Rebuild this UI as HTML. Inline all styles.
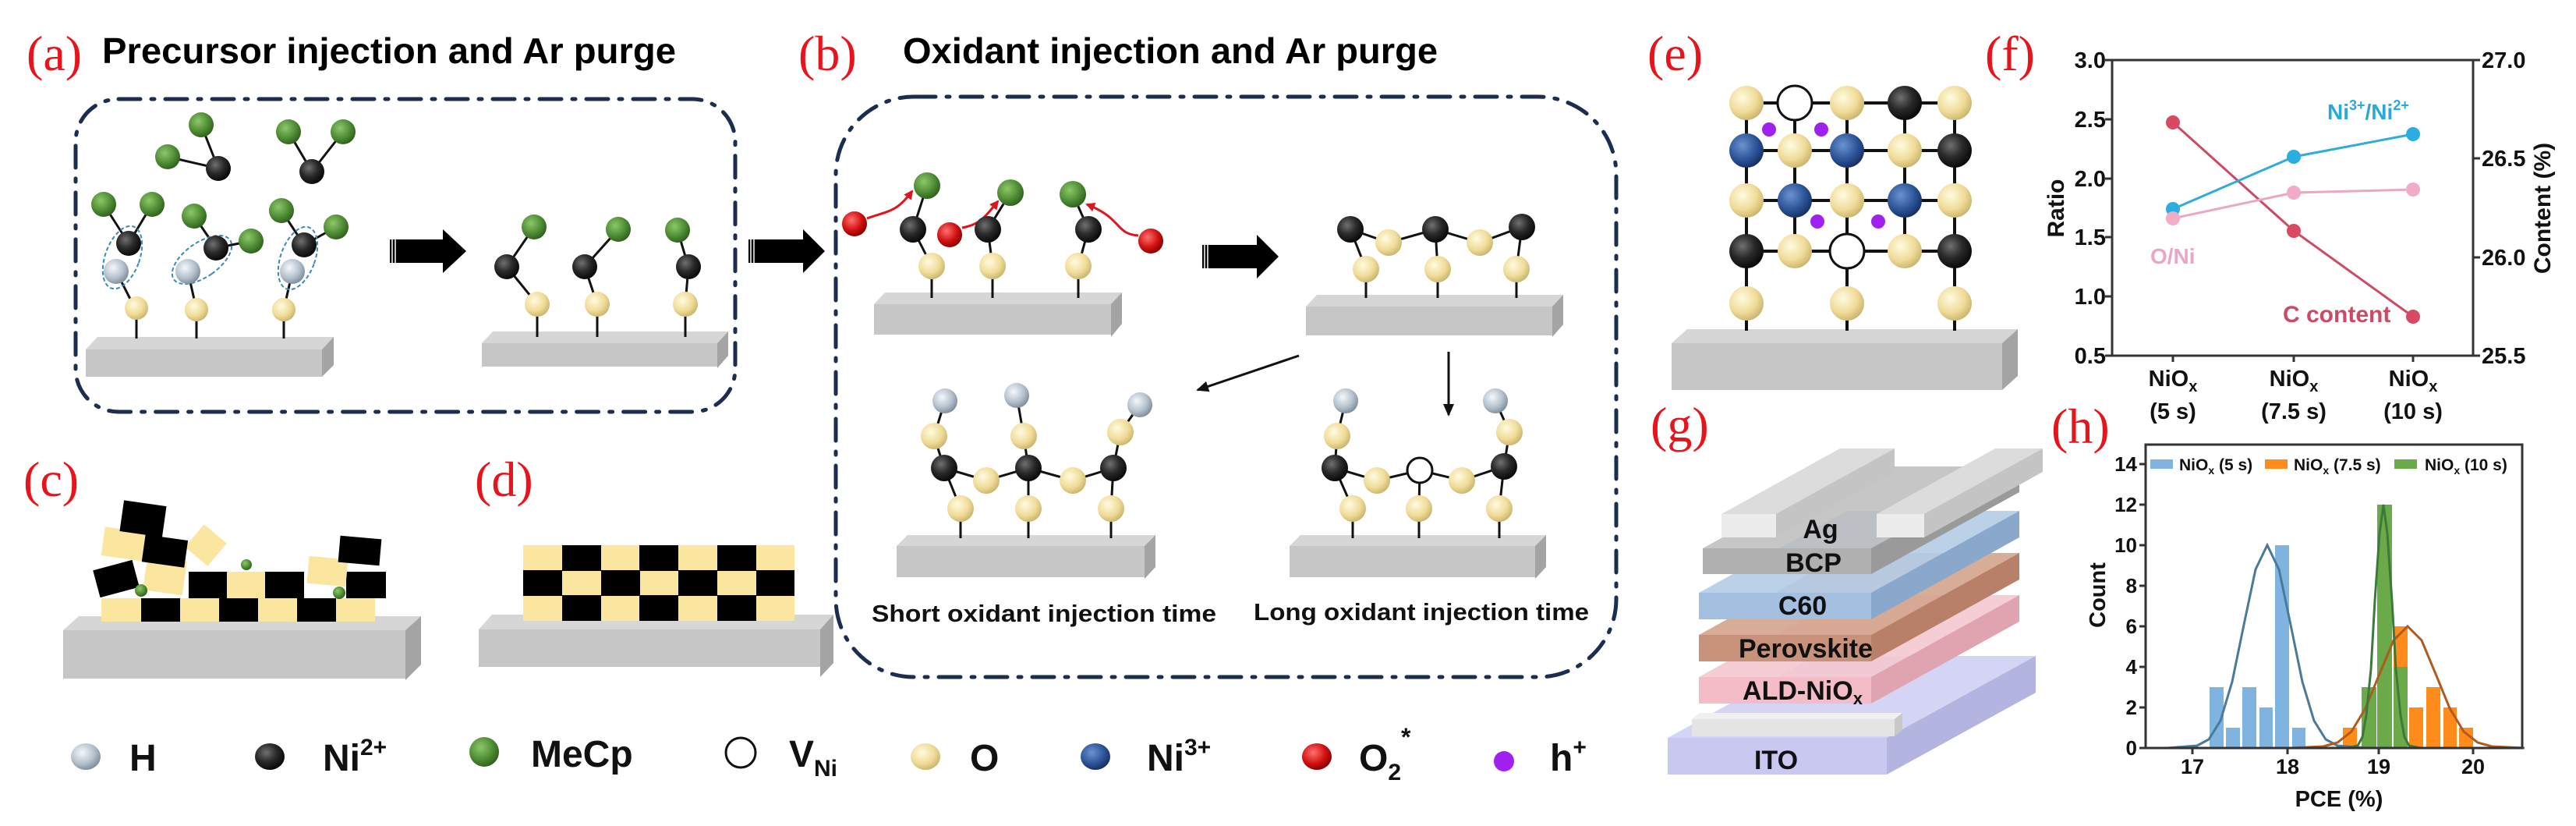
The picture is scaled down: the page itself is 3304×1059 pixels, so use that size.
<!DOCTYPE html>
<html><head><meta charset="utf-8"><style>
html,body{margin:0;padding:0;background:#fff;}
svg{display:block;}
text{font-family:"Liberation Sans",Arial,sans-serif;font-weight:bold;}
.lab{font-family:"Liberation Serif","Times New Roman",serif;font-weight:normal;fill:#e8141c;font-size:64px;}
</style></head><body>
<svg width="3304" height="1059" viewBox="0 0 3304 1059" xmlns="http://www.w3.org/2000/svg">
<defs>
<radialGradient id="gO" cx="0.38" cy="0.35" r="0.7"><stop offset="0" stop-color="#fffbe0"/><stop offset="0.6" stop-color="#f0dc98"/><stop offset="1" stop-color="#c8b26a"/></radialGradient>
<radialGradient id="gK" cx="0.38" cy="0.35" r="0.7"><stop offset="0" stop-color="#707070"/><stop offset="0.5" stop-color="#2a2a2a"/><stop offset="1" stop-color="#050505"/></radialGradient>
<radialGradient id="gG" cx="0.38" cy="0.35" r="0.7"><stop offset="0" stop-color="#8cc86a"/><stop offset="0.6" stop-color="#4e8c34"/><stop offset="1" stop-color="#2c5c1c"/></radialGradient>
<radialGradient id="gH" cx="0.38" cy="0.35" r="0.7"><stop offset="0" stop-color="#f4f8fc"/><stop offset="0.6" stop-color="#b4c0cc"/><stop offset="1" stop-color="#7a8898"/></radialGradient>
<radialGradient id="gB" cx="0.38" cy="0.35" r="0.7"><stop offset="0" stop-color="#6a94d0"/><stop offset="0.6" stop-color="#2c5498"/><stop offset="1" stop-color="#142c60"/></radialGradient>
<radialGradient id="gR" cx="0.38" cy="0.35" r="0.7"><stop offset="0" stop-color="#ff7070"/><stop offset="0.6" stop-color="#d01010"/><stop offset="1" stop-color="#800000"/></radialGradient>
<marker id="ak" markerWidth="8" markerHeight="8" refX="6" refY="4" orient="auto" markerUnits="userSpaceOnUse"><path d="M0,0 L8,4 L0,8 z" fill="#111"/></marker>
<marker id="ak2" markerWidth="16" markerHeight="14" refX="14" refY="7" orient="auto" markerUnits="userSpaceOnUse"><path d="M0,0 L16,7 L0,14 z" fill="#111"/></marker>
<marker id="ar" markerWidth="12" markerHeight="12" refX="10" refY="6" orient="auto" markerUnits="userSpaceOnUse"><path d="M0,0 L12,6 L0,12 z" fill="#e0141c"/></marker>
</defs>

<!-- Titles -->
<text x="34" y="90" class="lab">(a)</text>
<text x="131" y="81" font-size="46" textLength="736" lengthAdjust="spacingAndGlyphs">Precursor injection and Ar purge</text>
<text x="1024" y="90" class="lab">(b)</text>
<text x="1158" y="81" font-size="46" textLength="686" lengthAdjust="spacingAndGlyphs">Oxidant injection and Ar purge</text>
<text x="2113" y="90" class="lab">(e)</text>
<text x="2546" y="90" class="lab">(f)</text>
<text x="30" y="636" class="lab">(c)</text>
<text x="609" y="636" class="lab">(d)</text>
<text x="2117" y="566" class="lab">(g)</text>
<text x="2631" y="568" class="lab">(h)</text>

<!-- dashed boxes -->
<g fill="none" stroke="#1b2d50" stroke-width="5" stroke-dasharray="28 14 4 14" stroke-linecap="round">
<rect x="97" y="127" width="846" height="401" rx="55" ry="55"/>
<rect x="1072" y="124" width="1001" height="744" rx="100" ry="100"/>
</g>

<!-- Block arrows -->
<g fill="#000">
<path d="M500,307 H568 V294 L598,322 L568,350 V337 H500 Z"/>
<path d="M960,307 H1030 V294 L1058,322 L1030,350 V337 H960 Z"/>
<path d="M1542,314 H1612 V301 L1640,329 L1612,357 V344 H1542 Z"/>
</g>
<g stroke="#fff" stroke-width="1.5"><line x1="503" y1="306" x2="503" y2="338"/><line x1="507" y1="306" x2="507" y2="338"/><line x1="963" y1="306" x2="963" y2="338"/><line x1="967" y1="306" x2="967" y2="338"/><line x1="1545" y1="313" x2="1545" y2="345"/><line x1="1549" y1="313" x2="1549" y2="345"/></g>

<!-- Substrates -->
<g id="subs">
<polygon points="110,448 125,432 428,432 413,448" fill="#d6d6d6"/><rect x="110" y="448" width="303" height="35" fill="#c6c6c6"/><polygon points="413,448 428,432 428,468 413,483" fill="#a4a4a4"/>
<polygon points="618,440 632,425 934,425 920,440" fill="#d6d6d6"/><rect x="618" y="440" width="302" height="30" fill="#c6c6c6"/><polygon points="920,440 934,425 934,456 920,472" fill="#a4a4a4"/>
<polygon points="1121,390 1135,375 1439,375 1425,390" fill="#d6d6d6"/><rect x="1121" y="390" width="304" height="39" fill="#c6c6c6"/><polygon points="1425,390 1439,375 1439,415 1425,432" fill="#a4a4a4"/>
<polygon points="1675,393 1689,378 2005,378 1991,393" fill="#d6d6d6"/><rect x="1675" y="393" width="316" height="37" fill="#c6c6c6"/><polygon points="1991,393 2005,378 2005,416 1991,432" fill="#a4a4a4"/>
<polygon points="1150,700 1164,686 1482,686 1468,700" fill="#d6d6d6"/><rect x="1150" y="700" width="318" height="40" fill="#c6c6c6"/><polygon points="1468,700 1482,686 1482,727 1468,742" fill="#a4a4a4"/>
<polygon points="1654,700 1668,686 1983,686 1969,700" fill="#d6d6d6"/><rect x="1654" y="700" width="315" height="40" fill="#c6c6c6"/><polygon points="1969,700 1983,686 1983,727 1969,742" fill="#a4a4a4"/>
<polygon points="81,808 101,790 540,790 520,808" fill="#d6d6d6"/><rect x="81" y="808" width="439" height="62" fill="#c6c6c6"/><polygon points="520,808 540,790 540,852 520,872" fill="#a4a4a4"/>
<polygon points="614,807 631,788 1069,788 1052,807" fill="#d6d6d6"/><rect x="614" y="807" width="438" height="48" fill="#c6c6c6"/><polygon points="1052,807 1069,788 1069,850 1052,868" fill="#a4a4a4"/>
<polygon points="2144,440 2164,422 2588,422 2568,440" fill="#d6d6d6"/><rect x="2144" y="440" width="424" height="60" fill="#c6c6c6"/><polygon points="2568,440 2588,422 2588,482 2568,500" fill="#a4a4a4"/>
</g>

<!-- Panel a molecules -->
<g stroke="#111" stroke-width="3">
<line x1="258" y1="160" x2="280" y2="216"/><line x1="215" y1="201" x2="280" y2="216"/>
<line x1="370" y1="169" x2="400" y2="220"/><line x1="440" y1="169" x2="400" y2="220"/>
<line x1="133" y1="262" x2="165" y2="312"/><line x1="195" y1="262" x2="165" y2="312"/><line x1="149" y1="348" x2="173" y2="395"/><line x1="175" y1="395" x2="175" y2="434"/>
<line x1="249" y1="277" x2="277" y2="318"/><line x1="322" y1="309" x2="277" y2="318"/><line x1="241" y1="348" x2="252" y2="397"/><line x1="252" y1="397" x2="252" y2="434"/>
<line x1="361" y1="270" x2="390" y2="314"/><line x1="431" y1="291" x2="390" y2="314"/><line x1="375" y1="348" x2="364" y2="397"/><line x1="364" y1="397" x2="364" y2="434"/>
<line x1="689" y1="390" x2="689" y2="432"/><line x1="766" y1="390" x2="766" y2="432"/><line x1="879" y1="390" x2="879" y2="432"/>
<polyline points="685,291 650,342 689,390" fill="none"/><polyline points="793,294 750,342 766,390" fill="none"/><polyline points="869,295 883,342 879,390" fill="none"/>
</g>
<g>
<circle cx="258" cy="160" r="16" fill="url(#gG)"/><circle cx="215" cy="201" r="16" fill="url(#gG)"/><circle cx="280" cy="216" r="16" fill="url(#gK)"/>
<circle cx="370" cy="169" r="16" fill="url(#gG)"/><circle cx="440" cy="169" r="16" fill="url(#gG)"/><circle cx="400" cy="220" r="16" fill="url(#gK)"/>
<g fill="none" stroke="#3a8ab8" stroke-width="2" stroke-dasharray="5 3">
<ellipse cx="157" cy="330" rx="22" ry="42" transform="rotate(20 157 330)"/>
<ellipse cx="259" cy="333" rx="22" ry="44" transform="rotate(55 259 333)"/>
<ellipse cx="382" cy="331" rx="22" ry="42" transform="rotate(20 382 331)"/>
</g>
<circle cx="133" cy="262" r="16" fill="url(#gG)"/><circle cx="195" cy="262" r="16" fill="url(#gG)"/><circle cx="165" cy="312" r="16" fill="url(#gK)"/><circle cx="149" cy="348" r="16" fill="url(#gH)"/><circle cx="175" cy="395" r="15" fill="url(#gO)"/>
<circle cx="249" cy="277" r="16" fill="url(#gG)"/><circle cx="322" cy="309" r="16" fill="url(#gG)"/><circle cx="277" cy="318" r="16" fill="url(#gK)"/><circle cx="241" cy="348" r="16" fill="url(#gH)"/><circle cx="252" cy="397" r="15" fill="url(#gO)"/>
<circle cx="361" cy="270" r="16" fill="url(#gG)"/><circle cx="431" cy="291" r="16" fill="url(#gG)"/><circle cx="390" cy="314" r="16" fill="url(#gK)"/><circle cx="375" cy="348" r="16" fill="url(#gH)"/><circle cx="364" cy="397" r="15" fill="url(#gO)"/>
<circle cx="685" cy="291" r="16" fill="url(#gG)"/><circle cx="650" cy="342" r="16" fill="url(#gK)"/><circle cx="689" cy="390" r="16" fill="url(#gO)"/>
<circle cx="793" cy="294" r="16" fill="url(#gG)"/><circle cx="750" cy="342" r="16" fill="url(#gK)"/><circle cx="766" cy="390" r="16" fill="url(#gO)"/>
<circle cx="869" cy="295" r="16" fill="url(#gG)"/><circle cx="883" cy="342" r="16" fill="url(#gK)"/><circle cx="879" cy="390" r="16" fill="url(#gO)"/>
</g>

<!-- Panel b molecules -->
<g stroke="#111" stroke-width="3" fill="none">
<polyline points="1189,238 1171,294 1195,341 1195,382"/>
<polyline points="1296,247 1267,294 1273,341 1273,382"/>
<polyline points="1376,249 1396,294 1383,341 1383,382"/>
<polyline points="1752,345 1732,294 1781,311 1841,294 1898,311 1952,291 1945,345"/>
<line x1="1841" y1="294" x2="1844" y2="345"/>
<line x1="1752" y1="345" x2="1752" y2="382"/><line x1="1844" y1="345" x2="1844" y2="382"/><line x1="1945" y1="345" x2="1945" y2="382"/>
<polyline points="1212,514 1198,559 1211,600 1265,616 1319,600 1376,616 1428,600"/>
<polyline points="1304,507 1313,559 1319,600 1319,652 1319,690"/>
<polyline points="1462,519 1437,554 1428,600 1425,652 1425,690"/>
<polyline points="1211,600 1232,652 1232,690"/>
<polyline points="1726,514 1715,559 1712,600 1766,616 1821,603 1875,616 1929,598 1936,554 1918,514"/>
<polyline points="1712,600 1735,652 1735,690"/>
<polyline points="1821,603 1820,652 1820,690"/>
<polyline points="1929,598 1923,652 1923,690"/>
</g>
<g stroke="#111" stroke-width="3">
<line x1="1666" y1="456" x2="1536" y2="500" marker-end="url(#ak2)"/>
<line x1="1858" y1="451" x2="1858" y2="532" marker-end="url(#ak2)"/>
</g>
<g stroke="#e0141c" stroke-width="3" fill="none">
<path d="M1112,280 C1140,270 1150,272 1170,245" marker-end="url(#ar)"/>
<path d="M1234,292 C1256,288 1262,280 1280,258" marker-end="url(#ar)"/>
<path d="M1460,302 C1430,300 1440,280 1394,262" marker-end="url(#ar)"/>
</g>
<g>
<circle cx="1096" cy="287" r="16" fill="url(#gR)"/><circle cx="1218" cy="301" r="16" fill="url(#gR)"/><circle cx="1476" cy="309" r="16" fill="url(#gR)"/>
<circle cx="1189" cy="238" r="17" fill="url(#gG)"/><circle cx="1296" cy="247" r="17" fill="url(#gG)"/><circle cx="1376" cy="249" r="17" fill="url(#gG)"/>
<circle cx="1171" cy="294" r="17" fill="url(#gK)"/><circle cx="1267" cy="294" r="17" fill="url(#gK)"/><circle cx="1396" cy="294" r="17" fill="url(#gK)"/>
<circle cx="1195" cy="341" r="17" fill="url(#gO)"/><circle cx="1273" cy="341" r="17" fill="url(#gO)"/><circle cx="1383" cy="341" r="17" fill="url(#gO)"/>
<circle cx="1732" cy="294" r="17" fill="url(#gK)"/><circle cx="1781" cy="311" r="17" fill="url(#gO)"/><circle cx="1841" cy="294" r="17" fill="url(#gK)"/><circle cx="1898" cy="311" r="17" fill="url(#gO)"/><circle cx="1952" cy="291" r="17" fill="url(#gK)"/>
<circle cx="1752" cy="345" r="17" fill="url(#gO)"/><circle cx="1844" cy="345" r="17" fill="url(#gO)"/><circle cx="1945" cy="345" r="17" fill="url(#gO)"/>
<circle cx="1212" cy="514" r="16" fill="url(#gH)"/><circle cx="1304" cy="507" r="16" fill="url(#gH)"/><circle cx="1462" cy="519" r="16" fill="url(#gH)"/>
<circle cx="1198" cy="559" r="17" fill="url(#gO)"/><circle cx="1313" cy="559" r="17" fill="url(#gO)"/><circle cx="1437" cy="554" r="17" fill="url(#gO)"/>
<circle cx="1211" cy="600" r="17" fill="url(#gK)"/><circle cx="1319" cy="600" r="17" fill="url(#gK)"/><circle cx="1428" cy="600" r="17" fill="url(#gK)"/>
<circle cx="1265" cy="616" r="17" fill="url(#gO)"/><circle cx="1376" cy="616" r="17" fill="url(#gO)"/>
<circle cx="1232" cy="652" r="17" fill="url(#gO)"/><circle cx="1319" cy="652" r="17" fill="url(#gO)"/><circle cx="1425" cy="652" r="17" fill="url(#gO)"/>
<circle cx="1726" cy="514" r="16" fill="url(#gH)"/><circle cx="1918" cy="514" r="16" fill="url(#gH)"/>
<circle cx="1715" cy="559" r="17" fill="url(#gO)"/><circle cx="1936" cy="554" r="17" fill="url(#gO)"/>
<circle cx="1712" cy="600" r="17" fill="url(#gK)"/><circle cx="1929" cy="598" r="17" fill="url(#gK)"/>
<circle cx="1766" cy="616" r="17" fill="url(#gO)"/><circle cx="1875" cy="616" r="17" fill="url(#gO)"/>
<circle cx="1821" cy="603" r="16" fill="#fff" stroke="#111" stroke-width="3"/>
<circle cx="1735" cy="652" r="17" fill="url(#gO)"/><circle cx="1820" cy="652" r="17" fill="url(#gO)"/><circle cx="1923" cy="652" r="17" fill="url(#gO)"/>
</g>
<text x="1118" y="797" font-size="31" fill="#111" textLength="442" lengthAdjust="spacingAndGlyphs">Short oxidant injection time</text>
<text x="1608" y="795" font-size="31" fill="#111" textLength="430" lengthAdjust="spacingAndGlyphs">Long oxidant injection time</text>

<!-- Panel c -->
<g>
<rect x="130" y="767" width="51" height="30" fill="#fbe6a0"/><rect x="181" y="767" width="50" height="30" fill="#000"/><rect x="231" y="767" width="50" height="30" fill="#fbe6a0"/><rect x="281" y="767" width="50" height="30" fill="#000"/><rect x="331" y="767" width="50" height="30" fill="#fbe6a0"/><rect x="381" y="767" width="50" height="30" fill="#000"/><rect x="431" y="767" width="50" height="30" fill="#fbe6a0"/>
<rect x="242" y="733" width="49" height="34" fill="#000"/><rect x="291" y="733" width="49" height="34" fill="#fbe6a0"/><rect x="340" y="733" width="50" height="34" fill="#000"/><rect x="444" y="733" width="51" height="34" fill="#000"/>
<rect x="395" y="715" width="50" height="35" fill="#fbe6a0" transform="rotate(5 420 732)"/>
<rect x="132" y="679" width="54" height="37" fill="#fbe6a0" transform="rotate(8 159 697)"/>
<rect x="186" y="716" width="51" height="44" fill="#fbe6a0" transform="rotate(8 211 738)"/>
<rect x="245" y="680" width="38" height="38" fill="#fbe6a0" transform="rotate(40 264 699)"/>
<rect x="156" y="645" width="55" height="40" fill="#000" transform="rotate(8 183 665)"/>
<rect x="184" y="689" width="55" height="35" fill="#000" transform="rotate(8 211 706)"/>
<rect x="123" y="724" width="52" height="36" fill="#000" transform="rotate(-15 149 742)"/>
<rect x="435" y="689" width="53" height="34" fill="#000" transform="rotate(5 461 706)"/>
<circle cx="181" cy="757" r="8" fill="url(#gG)"/><circle cx="316" cy="724" r="7" fill="url(#gG)"/><circle cx="435" cy="760" r="8" fill="url(#gG)"/>
</g>

<!-- Panel d checker -->
<g>
<rect x="671" y="699" width="348" height="97" fill="#fbe6a0"/>
<g fill="#000">
<rect x="721" y="699" width="50" height="33"/><rect x="820" y="699" width="50" height="33"/><rect x="920" y="699" width="50" height="33"/>
<rect x="671" y="731" width="50" height="33"/><rect x="771" y="731" width="50" height="33"/><rect x="870" y="731" width="50" height="33"/><rect x="970" y="731" width="49" height="33"/>
<rect x="721" y="763" width="50" height="33"/><rect x="820" y="763" width="50" height="33"/><rect x="920" y="763" width="50" height="33"/>
</g>
</g>

<!-- Panel e lattice -->
<g stroke="#111" stroke-width="4">
<line x1="2240" y1="132" x2="2507" y2="132"/><line x1="2240" y1="193" x2="2507" y2="193"/><line x1="2240" y1="257" x2="2507" y2="257"/><line x1="2240" y1="322" x2="2507" y2="322"/>
<line x1="2240" y1="132" x2="2240" y2="424"/><line x1="2302" y1="132" x2="2302" y2="322"/><line x1="2369" y1="132" x2="2369" y2="424"/><line x1="2443" y1="132" x2="2443" y2="322"/><line x1="2507" y1="132" x2="2507" y2="424"/>
</g>
<g>
<circle cx="2240" cy="132" r="22" fill="url(#gO)"/><circle cx="2302" cy="132" r="22" fill="#fff" stroke="#111" stroke-width="3"/><circle cx="2369" cy="132" r="22" fill="url(#gO)"/><circle cx="2443" cy="132" r="22" fill="url(#gK)"/><circle cx="2507" cy="132" r="22" fill="url(#gO)"/>
<circle cx="2240" cy="193" r="22" fill="url(#gB)"/><circle cx="2302" cy="193" r="22" fill="url(#gO)"/><circle cx="2369" cy="193" r="22" fill="url(#gB)"/><circle cx="2443" cy="193" r="22" fill="url(#gO)"/><circle cx="2507" cy="193" r="22" fill="url(#gK)"/>
<circle cx="2240" cy="257" r="22" fill="url(#gO)"/><circle cx="2302" cy="257" r="22" fill="url(#gB)"/><circle cx="2369" cy="257" r="22" fill="url(#gO)"/><circle cx="2443" cy="257" r="22" fill="url(#gB)"/><circle cx="2507" cy="257" r="22" fill="url(#gO)"/>
<circle cx="2240" cy="322" r="22" fill="url(#gK)"/><circle cx="2302" cy="322" r="22" fill="url(#gO)"/><circle cx="2369" cy="322" r="22" fill="#fff" stroke="#111" stroke-width="3"/><circle cx="2443" cy="322" r="22" fill="url(#gO)"/><circle cx="2507" cy="322" r="22" fill="url(#gK)"/>
<circle cx="2240" cy="389" r="22" fill="url(#gO)"/><circle cx="2369" cy="389" r="22" fill="url(#gO)"/><circle cx="2507" cy="389" r="22" fill="url(#gO)"/>
<g fill="#a020f0"><circle cx="2269" cy="166" r="9"/><circle cx="2336" cy="166" r="9"/><circle cx="2331" cy="284" r="9"/><circle cx="2409" cy="284" r="9"/></g>
</g>

<!-- Panel g stack -->
<g>
<polygon points="2139,946 2329,841 2611,841 2420,946" fill="#d4d4f4"/>
<rect x="2139" y="946" width="281" height="47" fill="#c8c8f0"/>
<polygon points="2420,946 2611,841 2611,888 2420,993" fill="#b4b4e0"/>
<polygon points="2170,922 2180,914 2440,914 2430,922" fill="#f0f0f0"/><rect x="2170" y="922" width="260" height="22" fill="#e4e4e4"/><polygon points="2430,922 2440,914 2440,936 2430,944" fill="#c8c8c8"/>
<polygon points="2179,868 2369,763 2590,763 2400,868" fill="#f4c8d0" opacity="0.9"/>
<rect x="2179" y="868" width="221" height="34" fill="#f4bcc6"/>
<polygon points="2400,868 2590,763 2590,797 2400,902" fill="#e0a4b0"/>
<polygon points="2179,814 2369,709 2590,709 2400,814" fill="#d4a48c" opacity="0.9"/>
<rect x="2179" y="814" width="221" height="34" fill="#c8927a"/>
<polygon points="2400,814 2590,709 2590,743 2400,848" fill="#b88068"/>
<polygon points="2179,760 2369,655 2590,655 2400,760" fill="#b4cce6" opacity="0.9"/>
<rect x="2179" y="760" width="221" height="34" fill="#a4c0e0"/>
<polygon points="2400,760 2590,655 2590,689 2400,794" fill="#8aa8cc"/>
<polygon points="2184,703 2374,598 2590,598 2400,703" fill="#bcbcbc" opacity="0.85"/>
<rect x="2184" y="703" width="216" height="33" fill="#b0b0b0"/>
<polygon points="2400,703 2590,598 2590,631 2400,736" fill="#9a9a9a"/>
<polygon points="2208,659 2360,575 2430,575 2278,659" fill="#dcdcdc"/><rect x="2208" y="659" width="70" height="30" fill="#ececec"/><polygon points="2278,659 2430,575 2430,605 2278,689" fill="#c4c4c4"/>
<polygon points="2407,659 2559,575 2620,575 2468,659" fill="#dcdcdc"/><rect x="2407" y="659" width="61" height="30" fill="#ececec"/><polygon points="2468,659 2620,575 2620,605 2468,689" fill="#c4c4c4"/>
</g>
<g font-size="34" fill="#111" text-anchor="middle">
<text x="2335" y="690">Ag</text>
<text x="2326" y="733">BCP</text>
<text x="2312" y="788">C60</text>
<text x="2316" y="843">Perovskite</text>
<text x="2312" y="897">ALD-NiO<tspan font-size="22" dy="6">x</tspan></text>
<text x="2278" y="986">ITO</text>
</g>

<!-- Panel f plot -->
<g>
<rect x="2709" y="77" width="463" height="379" fill="none" stroke="#333" stroke-width="3"/>
<g stroke="#333" stroke-width="3">
<line x1="2709" y1="77" x2="2700" y2="77"/><line x1="2709" y1="153" x2="2700" y2="153"/><line x1="2709" y1="229" x2="2700" y2="229"/><line x1="2709" y1="304" x2="2700" y2="304"/><line x1="2709" y1="380" x2="2700" y2="380"/><line x1="2709" y1="456" x2="2700" y2="456"/>
<line x1="3172" y1="77" x2="3181" y2="77"/><line x1="3172" y1="203" x2="3181" y2="203"/><line x1="3172" y1="330" x2="3181" y2="330"/><line x1="3172" y1="456" x2="3181" y2="456"/>
<line x1="2787" y1="456" x2="2787" y2="464"/><line x1="2942" y1="456" x2="2942" y2="464"/><line x1="3095" y1="456" x2="3095" y2="464"/>
</g>
<g font-size="29" fill="#111" text-anchor="end">
<text x="2701" y="87">3.0</text><text x="2701" y="163">2.5</text><text x="2701" y="239">2.0</text><text x="2701" y="314">1.5</text><text x="2701" y="390">1.0</text><text x="2701" y="466">0.5</text>
</g>
<g font-size="29" fill="#111">
<text x="3183" y="87">27.0</text><text x="3183" y="213">26.5</text><text x="3183" y="340">26.0</text><text x="3183" y="466">25.5</text>
</g>
<text transform="translate(2647,267) rotate(-90)" font-size="30" fill="#111" text-anchor="middle">Ratio</text>
<text transform="translate(3271,267) rotate(-90)" font-size="30" fill="#111" text-anchor="middle">Content (%)</text>
<g font-size="29" fill="#111" text-anchor="middle">
<text x="2787" y="495">NiO<tspan font-size="20" dy="7">x</tspan></text><text x="2787" y="537">(5 s)</text>
<text x="2942" y="495">NiO<tspan font-size="20" dy="7">x</tspan></text><text x="2942" y="537">(7.5 s)</text>
<text x="3095" y="495">NiO<tspan font-size="20" dy="7">x</tspan></text><text x="3095" y="537">(10 s)</text>
</g>
<polyline points="2787,157 2942,296 3095,406" fill="none" stroke="#cc4a64" stroke-width="3"/>
<polyline points="2787,268 2942,201 3095,172" fill="none" stroke="#30acd8" stroke-width="3"/>
<polyline points="2787,280 2942,247 3095,243" fill="none" stroke="#eba6c4" stroke-width="3"/>
<g><circle cx="2787" cy="157" r="9" fill="#d84a62"/><circle cx="2942" cy="296" r="9" fill="#d84a62"/><circle cx="3095" cy="406" r="9" fill="#d84a62"/>
<circle cx="2787" cy="268" r="9" fill="#2aaee0"/><circle cx="2942" cy="201" r="9" fill="#2aaee0"/><circle cx="3095" cy="172" r="9" fill="#2aaee0"/>
<circle cx="2787" cy="280" r="9" fill="#f0acc8"/><circle cx="2942" cy="247" r="9" fill="#f0acc8"/><circle cx="3095" cy="243" r="9" fill="#f0acc8"/></g>
<text x="2985" y="153" font-size="28" fill="#2aa8dc">Ni<tspan font-size="18" dy="-12">3+</tspan><tspan dy="12">/Ni</tspan><tspan font-size="18" dy="-12">2+</tspan></text>
<text x="2758" y="338" font-size="28" fill="#eba6c4">O/Ni</text>
<text x="2928" y="413" font-size="30" fill="#cc4a64">C content</text>
</g>

<!-- Panel h plot -->
<g>
<g>
<rect x="2834" y="881" width="18" height="78" fill="#80b4e0"/><rect x="2855" y="933" width="18" height="26" fill="#80b4e0"/><rect x="2876" y="881" width="18" height="78" fill="#80b4e0"/><rect x="2898" y="907" width="17" height="52" fill="#80b4e0"/><rect x="2918" y="699" width="18" height="260" fill="#80b4e0"/><rect x="2940" y="933" width="17" height="26" fill="#80b4e0"/>
<rect x="3005" y="933" width="18" height="26" fill="#ff8c1a"/><rect x="3070" y="803" width="18" height="156" fill="#ff8c1a"/><rect x="3090" y="907" width="18" height="52" fill="#ff8c1a"/><rect x="3112" y="881" width="18" height="78" fill="#ff8c1a"/><rect x="3134" y="907" width="17" height="52" fill="#ff8c1a"/><rect x="3154" y="933" width="18" height="26" fill="#ff8c1a"/>
<rect x="3029" y="881" width="19" height="78" fill="#6aaa48"/><rect x="3049" y="647" width="19" height="312" fill="#6aaa48"/><rect x="3070" y="855" width="18" height="104" fill="#6aaa48"/>
</g>
<polyline fill="none" stroke="#4a7a9a" stroke-width="3" points="2780,959 2818,956 2833,948 2848,924 2863,874 2878,801 2893,730 2908,699 2923,730 2938,801 2953,874 2968,924 2983,948 2998,956 3036,959"/>
<polyline fill="none" stroke="#b05a20" stroke-width="3" points="2938,959 2980,957 2998,952 3016,938 3034,908 3052,864 3070,821 3088,803 3106,821 3124,864 3142,908 3160,938 3178,952 3196,957 3238,959"/>
<polyline fill="none" stroke="#3a7a3a" stroke-width="3" points="3010,959 3024,956 3030,945 3035,917 3041,858 3046,770 3052,684 3057,647 3062,684 3068,770 3073,858 3079,917 3084,945 3090,956 3104,959"/>
<rect x="2752" y="570" width="483" height="389" fill="none" stroke="#333" stroke-width="3"/>
<g stroke="#333" stroke-width="3">
<line x1="2752" y1="959" x2="2744" y2="959"/><line x1="2752" y1="907" x2="2744" y2="907"/><line x1="2752" y1="855" x2="2744" y2="855"/><line x1="2752" y1="803" x2="2744" y2="803"/><line x1="2752" y1="751" x2="2744" y2="751"/><line x1="2752" y1="699" x2="2744" y2="699"/><line x1="2752" y1="647" x2="2744" y2="647"/><line x1="2752" y1="595" x2="2744" y2="595"/>
<line x1="2812" y1="959" x2="2812" y2="967"/><line x1="2934" y1="959" x2="2934" y2="967"/><line x1="3051" y1="959" x2="3051" y2="967"/><line x1="3172" y1="959" x2="3172" y2="967"/>
</g>
<g font-size="26" fill="#111" text-anchor="end">
<text x="2741" y="968">0</text><text x="2741" y="916">2</text><text x="2741" y="864">4</text><text x="2741" y="812">6</text><text x="2741" y="760">8</text><text x="2741" y="708">10</text><text x="2741" y="656">12</text><text x="2741" y="604">14</text>
</g>
<g font-size="27" fill="#111" text-anchor="middle">
<text x="2812" y="992">17</text><text x="2934" y="992">18</text><text x="3051" y="992">19</text><text x="3172" y="992">20</text>
<text x="3000" y="1034" font-size="29">PCE (%)</text>
</g>
<text transform="translate(2700,763) rotate(-90)" font-size="29" fill="#111" text-anchor="middle">Count</text>
<rect x="2758" y="589" width="29" height="12" fill="#80b4e0"/><text x="2795" y="603" font-size="21" fill="#111">NiO<tspan font-size="14" dy="5">x</tspan><tspan dy="-5"> (5 s)</tspan></text>
<rect x="2905" y="589" width="29" height="12" fill="#ff8c1a"/><text x="2942" y="603" font-size="21" fill="#111">NiO<tspan font-size="14" dy="5">x</tspan><tspan dy="-5"> (7.5 s)</tspan></text>
<rect x="3071" y="589" width="29" height="12" fill="#6aaa48"/><text x="3110" y="603" font-size="21" fill="#111">NiO<tspan font-size="14" dy="5">x</tspan><tspan dy="-5"> (10 s)</tspan></text>
</g>

<!-- Legend -->
<g>
<ellipse cx="110" cy="970" rx="19" ry="17" fill="url(#gH)"/>
<ellipse cx="346" cy="970" rx="19" ry="17" fill="url(#gK)"/>
<circle cx="621" cy="964" r="19" fill="url(#gG)"/>
<circle cx="950" cy="965" r="19" fill="#fff" stroke="#111" stroke-width="3"/>
<ellipse cx="1187" cy="970" rx="19" ry="17" fill="url(#gO)"/>
<ellipse cx="1405" cy="970" rx="19" ry="17" fill="url(#gB)"/>
<ellipse cx="1689" cy="970" rx="19" ry="17" fill="url(#gR)"/>
<circle cx="1929" cy="976" r="13" fill="#a020f0"/>
</g>
<g font-size="48" fill="#111">
<text x="166" y="988">H</text>
<text x="414" y="988">Ni<tspan font-size="30" dy="-20">2+</tspan></text>
<text x="681" y="983">MeCp</text>
<text x="1012" y="983">V<tspan font-size="30" dy="12">Ni</tspan></text>
<text x="1244" y="988">O</text>
<text x="1471" y="988">Ni<tspan font-size="30" dy="-20">3+</tspan></text>
<text x="1743" y="988">O<tspan font-size="30" dy="12">2</tspan><tspan font-size="32" dy="-44">*</tspan></text>
<text x="1988" y="988">h<tspan font-size="30" dy="-20">+</tspan></text>
</g>
</svg>
</body></html>
